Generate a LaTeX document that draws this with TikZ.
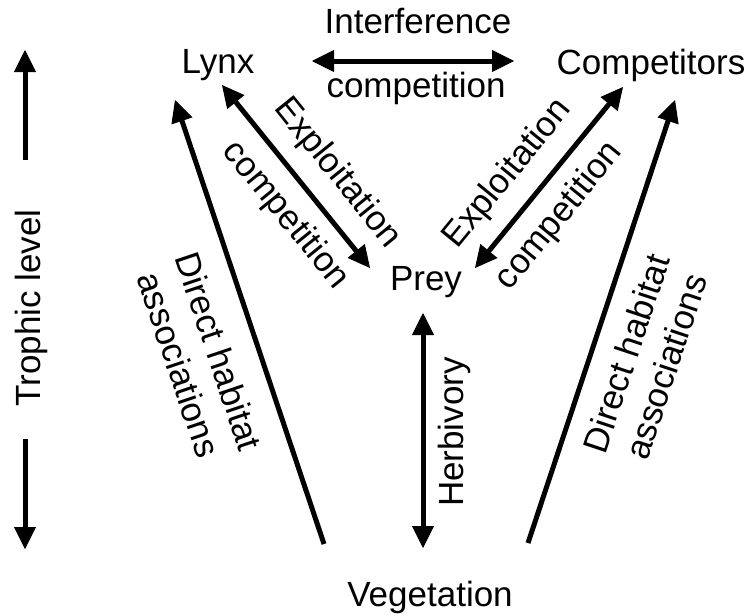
\documentclass[tikz,border=0pt]{standalone}
\usepackage{fontspec}
\setmainfont{Liberation Sans}
\usetikzlibrary{arrows.meta}

\begin{document}
\begin{tikzpicture}[x=1pt,y=-1pt,
        lbl/.style={font=\fontsize{35}{42}\selectfont,inner sep=0pt},
        onehead/.style={line width=5pt,-{Triangle[length=22pt,width=22pt,line width=1pt]}},
        twohead/.style={line width=5pt,{Triangle[length=22pt,width=22pt,line width=1pt]}-{Triangle[length=22pt,width=22pt,line width=1pt]}}]
        \useasboundingbox (0,0) rectangle (750,616);

        \node[lbl,anchor=base] (lynx)    at (218,73)  {Lynx};
        \node[lbl,anchor=base] (comp)    at (651,74)  {Competitors};
        \node[lbl,anchor=base] (prey)    at (426,290) {Prey};
        \node[lbl,anchor=base] (veg)     at (430,606) {Vegetation};
        \node[lbl,anchor=base] (interf)  at (418,33)  {Interference};
        \node[lbl,anchor=base] (intcomp) at (416,97)  {competition};

        \coordinate (IL) at (312,61);
        \coordinate (IR) at (514,61);
        \coordinate (LX) at (222,85);
        \coordinate (PL) at (370,268);
        \coordinate (CX) at (623,87);
        \coordinate (PR) at (475,268);
        \coordinate (HL) at (175,100);
        \coordinate (VL) at (324,544);
        \coordinate (HR) at (675,100);
        \coordinate (VR) at (528,543);
        \coordinate (PT) at (423,313);
        \coordinate (VT) at (423,548);
        \coordinate (TU) at (25,50);
        \coordinate (T1) at (25,160);
        \coordinate (T2) at (25,439);
        \coordinate (TD) at (25,549);

        \draw[twohead] (IL) -- (IR);
        \draw[twohead] (LX) -- node[lbl,sloped,pos=0.6,above=15pt] (exl) {Exploitation}
                                node[lbl,sloped,pos=0.6,below=14pt] (cpl) {competition} (PL);
        \draw[twohead] (PR) -- node[lbl,sloped,pos=0.4,above=15pt] (exr) {Exploitation}
                                node[lbl,sloped,pos=0.4,below=14pt] (cpr) {competition} (CX);
        \draw[onehead] (VL) -- (HL);
        \draw[onehead] (VR) -- (HR);
        \draw[twohead] (PT) -- (VT);
        \draw[onehead] (T1) -- (TU);
        \draw[onehead] (T2) -- (TD);

        \node[lbl,anchor=base,rotate=90]      (herb)   at (463,432) {Herbivory};
        \node[lbl,anchor=base,rotate=90]      (troph)  at (40,308)  {Trophic level};
        \node[lbl,align=center,rotate=-71.4]  (habl)   at (199,358) {Direct habitat\\associations};
        \node[lbl,align=center,rotate=71.6]   (habr)   at (646,360) {Direct habitat\\associations};
\end{tikzpicture}
\end{document}
